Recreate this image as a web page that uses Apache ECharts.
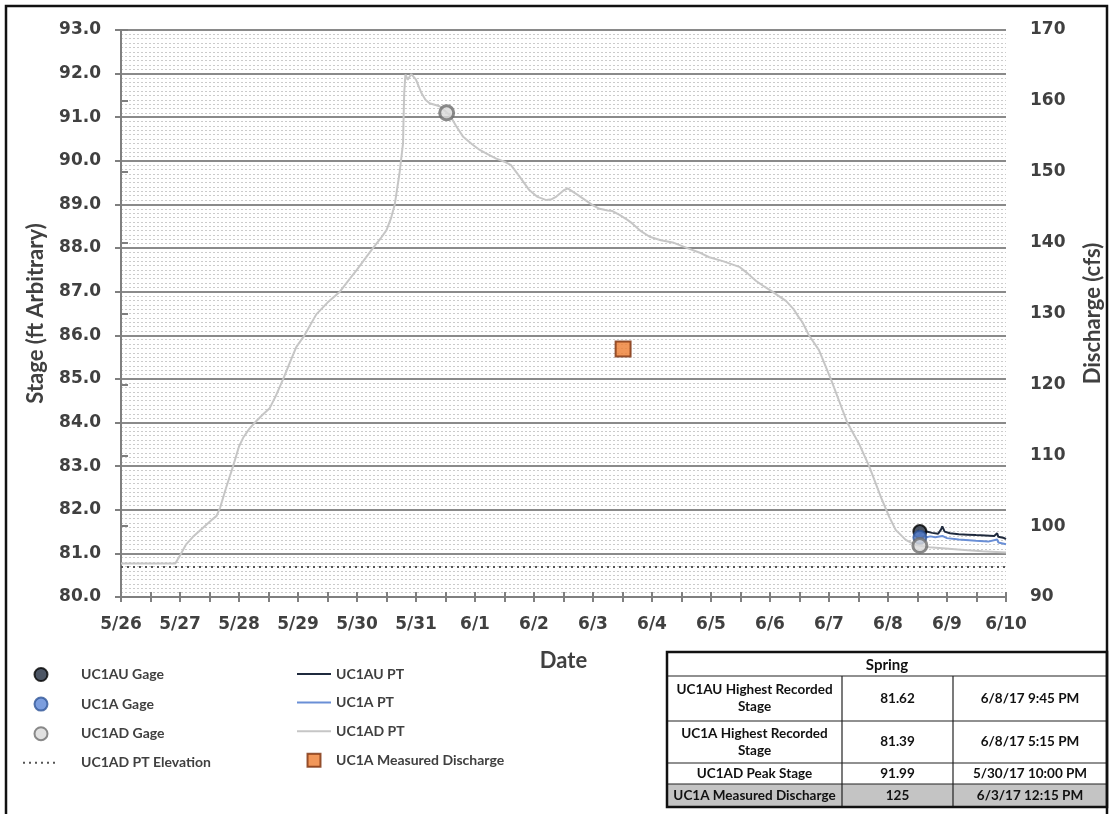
<!DOCTYPE html>
<html>
<head>
<meta charset="utf-8">
<script src="https://cdn.jsdelivr.net/npm/echarts@6/dist/echarts.min.js"></script>
<style>
html,body{margin:0;padding:0;background:#fff;}
#chart{width:1112px;height:814px;}
</style>
</head>
<body>
<div id="chart"></div>
<script>
// x values are days after 5/26 (0 = 5/26 00:00)
const dateLabels = ['5/26','5/27','5/28','5/29','5/30','5/31','6/1','6/2','6/3','6/4','6/5','6/6','6/7','6/8','6/9','6/10'];

const adPtT = [0,0.5,0.92,1.0,1.1,1.22,1.4,1.55,1.62,1.68,1.78,1.9,2.0,2.07,2.17,2.27,2.4,2.52,2.62,2.75,2.87,2.97,3.11,3.31,3.5,3.71,3.85,3.99,4.15,4.27,4.4,4.5,4.58,4.64,4.72,4.78,4.79,4.8,4.82,4.86,4.92,5.0,5.09,5.16,5.23,5.4,5.57,5.68,5.8,5.95,6.08,6.22,6.36,6.5,6.61,6.75,6.92,7.05,7.21,7.3,7.38,7.5,7.57,7.65,7.74,7.87,8.0,8.11,8.25,8.33,8.45,8.59,8.67,8.8,8.96,9.15,9.35,9.6,9.8,9.97,10.2,10.48,10.62,10.76,10.9,11.04,11.15,11.27,11.4,11.49,11.55,11.66,11.83,12.03,12.17,12.31,12.51,12.68,12.88,13.02,13.13,13.3,13.47,13.7,13.92,14.3,14.6,15.0];
const adPtV = [80.77,80.77,80.77,80.95,81.2,81.38,81.6,81.78,81.86,82.05,82.5,83.0,83.45,83.65,83.85,84.0,84.18,84.33,84.6,85.0,85.4,85.73,86.0,86.48,86.75,87.0,87.25,87.49,87.78,88.0,88.22,88.41,88.7,89.0,89.71,90.4,91.0,91.55,91.98,91.86,91.99,91.86,91.56,91.4,91.32,91.25,91.05,90.8,90.55,90.38,90.25,90.15,90.05,89.98,89.9,89.65,89.33,89.18,89.1,89.12,89.18,89.32,89.37,89.3,89.22,89.1,88.98,88.9,88.86,88.85,88.76,88.64,88.56,88.4,88.26,88.18,88.13,88.0,87.9,87.79,87.7,87.57,87.42,87.25,87.12,87.0,86.9,86.79,86.6,86.41,86.3,86.0,85.66,85.0,84.5,84.0,83.51,83.0,82.29,81.84,81.54,81.31,81.19,81.14,81.12,81.08,81.05,81.02];

const auPtT = [13.5,13.55,13.65,13.75,13.85,13.9,13.92,13.96,14.05,14.2,14.35,14.49,14.65,14.8,14.85,14.87,14.95,15.0];
const auPtV = [81.53,81.46,81.5,81.47,81.45,81.55,81.62,81.5,81.46,81.44,81.43,81.42,81.41,81.4,81.46,81.38,81.36,81.33];

const aPtT = [13.5,13.55,13.65,13.72,13.8,13.92,14.0,14.2,14.49,14.7,14.85,14.87,15.0];
const aPtV = [81.4,81.42,81.37,81.39,81.37,81.4,81.35,81.32,81.29,81.27,81.32,81.25,81.21];

const auGageT = [13.54];
const auGageV = [81.5];
const aGageT = [13.54];
const aGageV = [81.37];
const adGageT = [5.52, 13.54];
const adGageV = [91.1, 81.18];

const elevT = [0, 15];
const elevV = [80.69, 80.69];

const dischargeT = [8.51];
const dischargeV = [125];

const tableRows = [
  ['UC1AU Highest Recorded\nStage', '81.62', '6/8/17 9:45 PM'],
  ['UC1A Highest Recorded\nStage', '81.39', '6/8/17 5:15 PM'],
  ['UC1AD Peak Stage', '91.99', '5/30/17 10:00 PM'],
  ['UC1A Measured Discharge', '125', '6/3/17 12:15 PM']
];
const tableTitle = 'Spring';

function zip(t, v) { return t.map((x, i) => [x, v[i]]); }

const tickFont = { fontFamily: 'DejaVu Sans', fontWeight: 'bold', fontSize: 17, color: '#404040' };
const titleFont = { fontFamily: 'Lato', fontWeight: 'bold', fontSize: 22, color: '#404040' };
const legendFont = { fontFamily: 'Lato', fontWeight: 'bold', fontSize: 14, color: '#404040' };

// table graphics
const colX = [667, 842, 953, 1107];
const rowY = [652, 676, 721, 763, 784, 807];
const tableEls = [];
tableEls.push({ type: 'rect', shape: { x: colX[0], y: rowY[4], width: colX[3] - colX[0], height: rowY[5] - rowY[4] }, style: { fill: '#c4c4c4' } });
for (let r = 1; r < rowY.length - 1; r++) {
  tableEls.push({ type: 'line', shape: { x1: colX[0], y1: rowY[r], x2: colX[3], y2: rowY[r] }, style: { stroke: '#222', lineWidth: 1.2 } });
}
for (let c = 1; c < 3; c++) {
  tableEls.push({ type: 'line', shape: { x1: colX[c], y1: rowY[1], x2: colX[c], y2: rowY[5] }, style: { stroke: '#222', lineWidth: 1.2 } });
}
tableEls.push({ type: 'rect', shape: { x: colX[0], y: rowY[0], width: colX[3] - colX[0], height: rowY[5] - rowY[0] }, style: { fill: null, stroke: '#111', lineWidth: 2.5 } });
tableEls.push({ type: 'text', style: { text: tableTitle, x: (colX[0] + colX[3]) / 2, y: (rowY[0] + rowY[1]) / 2 + 1, align: 'center', verticalAlign: 'middle', fontFamily: 'Lato', fontWeight: 'bold', fontSize: 15, fill: '#111' } });
tableRows.forEach((row, r) => {
  row.forEach((txt, c) => {
    tableEls.push({ type: 'text', style: { text: txt, x: (colX[c] + colX[c + 1]) / 2, y: (rowY[r + 1] + rowY[r + 2]) / 2, align: 'center', verticalAlign: 'middle', lineHeight: 17, fontFamily: 'Lato', fontWeight: 'bold', fontSize: 13.5, fill: '#111' } });
  });
});

const lineOnlyIcon = { opacity: 0 };

const chart = echarts.init(document.getElementById('chart'), null, { renderer: 'canvas' });
const option = {
  backgroundColor: '#fff',
  animation: false,
  grid: { left: 121, right: 105, top: 30, bottom: 217, containLabel: false },
  xAxis: [
    {
      type: 'value', min: 0, max: 15, interval: 1,
      name: 'Date', nameLocation: 'middle', nameGap: 53,
      nameTextStyle: titleFont,
      axisLine: { show: true, lineStyle: { color: '#7f7f7f', width: 2 } },
      axisTick: { show: true, length: 5, lineStyle: { color: '#7f7f7f', width: 2 } },
      minorTick: { show: true, splitNumber: 2, length: 5, lineStyle: { color: '#7f7f7f', width: 2 } },
      splitLine: { show: false },
      axisLabel: Object.assign({ margin: 19, formatter: v => dateLabels[Math.round(v)] }, tickFont)
    },
    {
      type: 'value', min: 0, max: 15, interval: 1, position: 'bottom',
      axisLine: { show: false },
      axisTick: { show: true, inside: true, length: 5, lineStyle: { color: '#7f7f7f', width: 2 } },
      minorTick: { show: true, splitNumber: 2, length: 5, lineStyle: { color: '#7f7f7f', width: 2 } },
      splitLine: { show: false },
      axisLabel: { show: false }
    }
  ],
  yAxis: [
    {
      type: 'value', min: 80, max: 93, interval: 1, position: 'left',
      name: 'Stage (ft Arbitrary)', nameLocation: 'middle', nameGap: 74, nameRotate: 90,
      nameTextStyle: titleFont,
      axisLine: { show: true, lineStyle: { color: '#7f7f7f', width: 2 } },
      axisTick: { show: true, length: 6, lineStyle: { color: '#7f7f7f', width: 2 } },
      minorTick: { show: false, splitNumber: 10 },
      splitLine: { show: true, lineStyle: { color: '#8a8a8a', width: 2 } },
      minorSplitLine: { show: true, lineStyle: { color: '#cbcbcb', width: 1, type: [2, 2] } },
      axisLabel: Object.assign({ margin: 20, formatter: v => v.toFixed(1) }, tickFont)
    },
    {
      type: 'value', min: 90, max: 170, interval: 10, position: 'right',
      name: 'Discharge (cfs)', nameLocation: 'middle', nameGap: 76, nameRotate: 90,
      nameTextStyle: titleFont,
      axisLine: { show: true, lineStyle: { color: '#7f7f7f', width: 2 } },
      axisTick: { show: true, length: 7, lineStyle: { color: '#7f7f7f', width: 2 } },
      splitLine: { show: false },
      axisLabel: Object.assign({ margin: 24 }, tickFont)
    }
  ],
  legend: [
    {
      orient: 'vertical', left: 22, top: 667, padding: 0, itemWidth: 36, itemHeight: 13, itemGap: 14.6,
      textStyle: Object.assign({ padding: [0, 0, 0, 17] }, legendFont),
      data: [
        { name: 'UC1AU Gage' },
        { name: 'UC1A Gage' },
        { name: 'UC1AD Gage' },
        { name: 'UC1AD PT Elevation', itemStyle: lineOnlyIcon }
      ]
    },
    {
      orient: 'vertical', left: 296, top: 667, padding: 0, itemWidth: 34, itemHeight: 13, itemGap: 14.6,
      textStyle: legendFont,
      data: [
        { name: 'UC1AU PT', itemStyle: lineOnlyIcon },
        { name: 'UC1A PT', itemStyle: lineOnlyIcon },
        { name: 'UC1AD PT', itemStyle: lineOnlyIcon },
        { name: 'UC1A Measured Discharge', icon: 'path://M0,0H10V10H0Z' }
      ]
    }
  ],
  graphic: [
    { type: 'rect', shape: { x: 6, y: 6, width: 1101, height: 860 }, style: { fill: null, stroke: '#111', lineWidth: 2.5 }, z: 100 },
    { type: 'group', children: tableEls, z: 100 }
  ],
  series: [
    {
      name: 'UC1AD PT Elevation', type: 'line', symbol: 'none', data: zip(elevT, elevV),
      lineStyle: { color: '#555555', width: 2, type: [2, 4] }, itemStyle: { color: '#555555' }, z: 2
    },
    {
      name: 'UC1AD PT', type: 'line', symbol: 'none', data: zip(adPtT, adPtV),
      lineStyle: { color: '#c6c6c6', width: 2 }, itemStyle: { color: '#c6c6c6' }, z: 3
    },
    {
      name: 'UC1A PT', type: 'line', symbol: 'none', data: zip(aPtT, aPtV),
      lineStyle: { color: '#6a8fd6', width: 2 }, itemStyle: { color: '#6a8fd6' }, z: 4
    },
    {
      name: 'UC1AU PT', type: 'line', symbol: 'none', data: zip(auPtT, auPtV),
      lineStyle: { color: '#1f2a3d', width: 2 }, itemStyle: { color: '#1f2a3d' }, z: 5
    },
    {
      name: 'UC1AU Gage', type: 'scatter', symbol: 'circle', symbolSize: 13, data: zip(auGageT, auGageV),
      itemStyle: { color: '#1f2a3d', borderColor: '#000', borderWidth: 2 }, z: 6
    },
    {
      name: 'UC1A Gage', type: 'scatter', symbol: 'circle', symbolSize: 13, data: zip(aGageT, aGageV),
      itemStyle: { color: '#5b86d6', borderColor: '#2f5597', borderWidth: 2 }, z: 7
    },
    {
      name: 'UC1AD Gage', type: 'scatter', symbol: 'circle', symbolSize: 14, data: zip(adGageT, adGageV),
      itemStyle: { color: '#d9d9d9', borderColor: '#6e6e6e', borderWidth: 3 }, z: 8
    },
    {
      name: 'UC1A Measured Discharge', type: 'scatter', symbol: 'rect', symbolSize: 15, yAxisIndex: 1,
      data: zip(dischargeT, dischargeV),
      itemStyle: { color: '#ed7d31', borderColor: '#7a2e0a', borderWidth: 2 }, z: 9
    }
  ]
};
chart.setOption(option);
</script>
</body>
</html>
